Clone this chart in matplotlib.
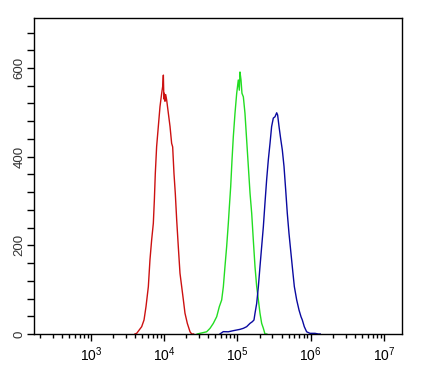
import matplotlib
matplotlib.use("Agg")
import matplotlib.pyplot as plt
from matplotlib.ticker import LogLocator, NullFormatter, MultipleLocator, FixedLocator

plt.rcParams['font.family'] = ['Liberation Sans', 'DejaVu Sans']
plt.rcParams['mathtext.fontset'] = 'custom'
plt.rcParams['mathtext.rm'] = 'Liberation Sans'
plt.rcParams['mathtext.it'] = 'Liberation Sans'

# log10 of fluorescence intensity and event counts
red_log = [3.60, 3.624, 3.692, 3.724, 3.751, 3.783, 3.805, 3.828, 3.851, 3.865, 3.878, 3.896,
           3.919, 3.942, 3.965, 3.980, 3.988, 3.995, 4.001, 4.010, 4.020, 4.033, 4.056, 4.079,
           4.101, 4.110, 4.115, 4.133, 4.151, 4.170, 4.192, 4.215, 4.238, 4.261, 4.283, 4.315,
           4.352, 4.375, 4.40]
red_cnt = [0, 1.5, 16.5, 31.6, 61.7, 106.8, 167, 212, 249.6, 302, 362, 422.6,
           467.7, 512.8, 542.8, 560, 584, 530, 543, 525, 540, 528, 498, 468,
           430, 425, 422, 362, 317, 257, 197, 137, 107, 77, 47, 24,
           5, 0, 0]

green_log = [4.45, 4.488, 4.579, 4.625, 4.670, 4.716, 4.752, 4.784, 4.807, 4.829, 4.852, 4.875,
             4.889, 4.907, 4.925, 4.943, 4.966, 4.989, 5.011, 5.025, 5.034, 5.048, 5.061, 5.080,
             5.102, 5.125, 5.148, 5.171, 5.194, 5.216, 5.239, 5.262, 5.285, 5.307, 5.330, 5.353,
             5.375, 5.40]
green_cnt = [0, 1.5, 5, 12.8, 24, 39, 61.7, 76.7, 106.8, 152, 197, 250,
             287, 332, 392, 445, 498, 542.8, 573, 550, 591, 573, 543, 535,
             498, 438, 378, 318, 272, 212, 152, 107, 77, 47, 24, 13,
             0, 0]

blue_log = [4.76, 4.806, 4.875, 4.943, 4.989, 5.034, 5.080, 5.125, 5.171, 5.203, 5.225, 5.239,
            5.262, 5.285, 5.307, 5.330, 5.353, 5.375, 5.398, 5.421, 5.444, 5.466, 5.489, 5.512,
            5.535, 5.548, 5.567, 5.589, 5.612, 5.635, 5.658, 5.680, 5.703, 5.730, 5.753, 5.776,
            5.808, 5.840, 5.867, 5.885, 5.912, 5.944, 5.990, 6.058, 6.103, 6.13]
blue_cnt = [0, 5.3, 5, 7.5, 9, 10.5, 12.8, 16.5, 24, 27.8, 31.6, 46.6,
            69, 107, 152, 197, 242, 295, 348, 393, 430, 468, 487, 490,
            499, 494, 468, 441, 415, 378, 325, 272, 227, 182, 144, 107,
            77, 54, 39, 31.6, 16.5, 5, 1.5, 1.5, 0, 0]

y_ticks = [0, 200, 400, 600]
x_lim_log = (2.222, 7.239)
y_max = 712.8

fig = plt.figure(figsize=(4.21, 3.69), dpi=100)
ax = fig.add_axes([34/421, 35/369, 367.5/421, 316/369])

ax.plot([10**v for v in red_log], red_cnt, color='#cc1111', lw=1.0)
ax.plot([10**v for v in green_log], green_cnt, color='#22dd22', lw=1.0)
ax.plot([10**v for v in blue_log], blue_cnt, color='#0a0aa0', lw=1.0)

ax.set_xscale('log')
ax.set_xlim(10**x_lim_log[0], 10**x_lim_log[1])
ax.set_ylim(0, y_max)

ax.xaxis.set_major_locator(LogLocator(base=10, numticks=20))
ax.xaxis.set_minor_locator(LogLocator(base=10, subs=range(2, 10), numticks=40))
ax.xaxis.set_minor_formatter(NullFormatter())
ax.tick_params(axis='x', which='major', length=5, width=1, direction='out', labelsize=10, pad=3)
ax.tick_params(axis='x', which='minor', length=3, width=1, direction='out')

ax.yaxis.set_major_locator(FixedLocator(y_ticks))
ax.yaxis.set_minor_locator(MultipleLocator(40))
ax.tick_params(axis='y', which='both', length=5, width=1, direction='out', labelsize=9.5, pad=1,
               labelcolor='#333333')
for lab in ax.get_yticklabels():
    lab.set_rotation(90)
    lab.set_va('center')

for s in ax.spines.values():
    s.set_linewidth(1.0)

fig.savefig('out.png', dpi=100)
